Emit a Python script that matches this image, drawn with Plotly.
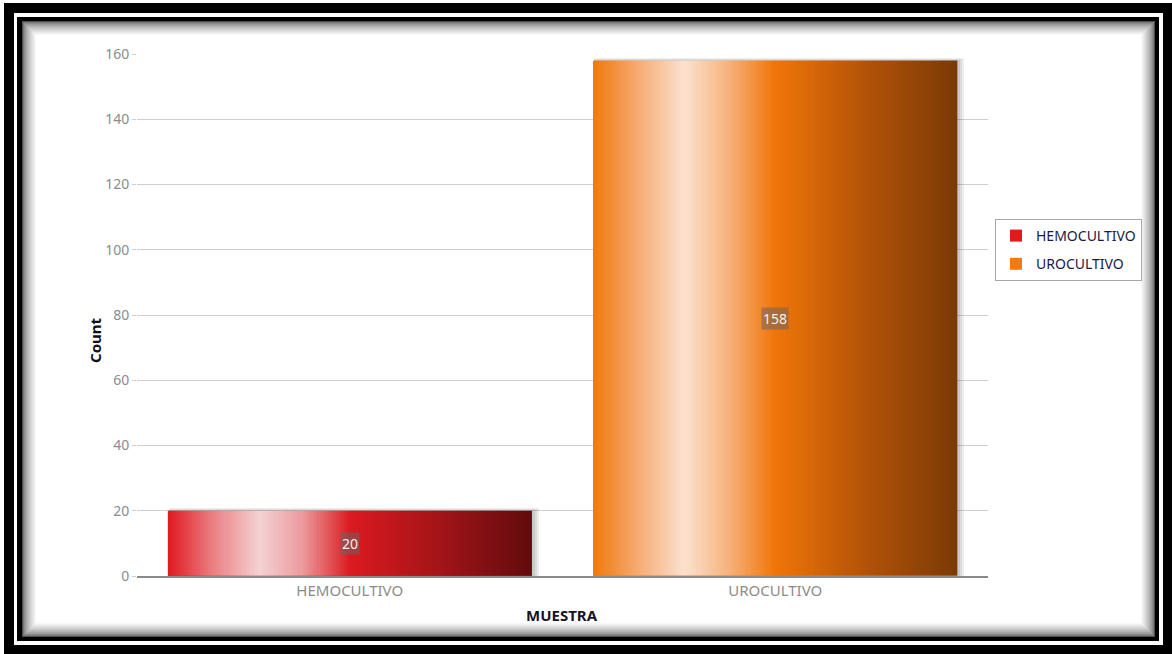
import numpy as np
import plotly.graph_objects as go

# Data
categories = ["HEMOCULTIVO", "UROCULTIVO"]
counts = [20, 158]
legend_colors = ["#e31a1c", "#f57a0e"]
y_ticks = [0, 20, 40, 60, 80, 100, 120, 140, 160]

# Horizontal "cylinder" shading for each bar
shading = [
    [[0.0, "#e01b22"], [0.12, "#ea7d80"], [0.25, "#f4d2d4"], [0.37, "#ec9a9d"],
     [0.5, "#db1a20"], [0.75, "#a21418"], [1.0, "#620b0d"]],
    [[0.0, "#f0790f"], [0.12, "#f6ab72"], [0.25, "#fbe1cf"], [0.37, "#f7b27c"],
     [0.5, "#f07508"], [0.75, "#b35308"], [1.0, "#7a3a06"]],
]

W, H = 1172, 654
L, R, T, B = 137, 184, 54, 78
PW, PH = W - L - R, H - T - B


def px(x):
    return (x - L) / PW


def py(y):
    return (H - B - y) / PH


BAR_W = 0.855
N_STRIPS = 180
X_RANGE = [-0.5, 1.5]
Y_RANGE = [0, 160]

fig = go.Figure()

# Soft drop shadow behind each bar
for i, v in enumerate(counts):
    for k, a in enumerate([0.10, 0.12, 0.14]):
        grow = 0.005 * (3 - k)
        fig.add_trace(go.Bar(
            x=[i + grow / 2 + 0.002], y=[v + 0.3 * (3 - k)], width=BAR_W + grow,
            marker=dict(color=f"rgba(90,90,90,{a})", line=dict(width=0)),
            showlegend=False, hoverinfo="skip",
        ))

# Base bars (legend entries)
for i, (cat, v, col) in enumerate(zip(categories, counts, legend_colors)):
    fig.add_trace(go.Bar(
        x=[i], y=[v], width=BAR_W, name=cat, legendgroup=cat,
        marker=dict(color=col, line=dict(width=0)),
        hoverinfo="x+y",
    ))

# Gradient fill over each bar, on an overlaid axis pair so it sits on top
for i, v in enumerate(counts):
    dx = BAR_W / N_STRIPS
    fig.add_trace(go.Heatmap(
        z=[np.linspace(0, 1, N_STRIPS)],
        x0=i - BAR_W / 2 + dx / 2, dx=dx,
        y0=v / 2, dy=v,
        colorscale=shading[i], zmin=0, zmax=1,
        showscale=False, hoverinfo="skip", zsmooth=False,
        xaxis="x2", yaxis="y2",
    ))

# Value labels in the middle of each bar
for i, v in enumerate(counts):
    fig.add_annotation(
        x=i, y=v / 2, text=str(v), showarrow=False,
        font=dict(family="Noto Sans", size=14, color="#f6f1ea"),
        bgcolor="rgba(105,100,100,0.55)", borderpad=1,
    )

# Frame: outer black border, white gap, inner black line, inner shadow
shapes = [
    dict(x0=4, y0=3, x1=1172, y1=654, fill="#000000"),
    dict(x0=14, y0=13, x1=1163, y1=645, fill="#ffffff"),
    dict(x0=17, y0=17, x1=1159, y1=641, fill="#000000"),
]
shadow_steps = 14
for k in range(shadow_steps + 1):
    g = int(80 + (255 - 80) * (k / shadow_steps) ** 0.55)
    shapes.append(dict(x0=22 + k, y0=21 + k, x1=1155 - k, y1=637 - k,
                       fill=f"rgb({g},{g},{g})"))
shapes.append(dict(x0=36, y0=35, x1=1141, y1=623, fill="#ffffff"))

for s in shapes:
    fig.add_shape(
        type="rect", xref="paper", yref="paper", layer="below",
        x0=px(s["x0"]), x1=px(s["x1"]), y0=py(s["y1"]), y1=py(s["y0"]),
        fillcolor=s["fill"], line=dict(width=0),
    )

# Axis titles
fig.add_annotation(
    xref="paper", yref="paper", x=px(95), y=py(340), text="<b>Count</b>",
    textangle=-90, showarrow=False, xanchor="center", yanchor="middle",
    font=dict(family="Noto Sans", size=15, color="#111111"),
)
fig.add_annotation(
    xref="paper", yref="paper", x=px(562), y=py(615), text="<b>MUESTRA</b>",
    showarrow=False, xanchor="center", yanchor="middle",
    font=dict(family="Noto Sans", size=15, color="#141428"),
)

fig.update_layout(
    width=W, height=H, autosize=False,
    margin=dict(l=L, r=R, t=T, b=B, pad=0),
    paper_bgcolor="#ffffff", plot_bgcolor="rgba(0,0,0,0)",
    barmode="overlay", bargap=0,
    showlegend=True,
    legend=dict(
        x=px(995), y=py(219), xanchor="left", yanchor="top",
        bgcolor="#ffffff", bordercolor="#a8a8a8", borderwidth=1,
        font=dict(family="Noto Sans", size=14, color="#1a1a44"),
        tracegroupgap=7, itemclick=False,
    ),
    xaxis=dict(
        range=X_RANGE, tickmode="array", tickvals=[0, 1], ticktext=categories,
        showgrid=False, zeroline=False, showline=True,
        linecolor="#8a8a8a", linewidth=2,
        ticks="", tickfont=dict(family="Noto Sans", size=15, color="#8c8c8c"),
    ),
    yaxis=dict(
        range=Y_RANGE, tickmode="array", tickvals=y_ticks,
        showgrid=True, gridcolor="#cfcfcf", gridwidth=1,
        zeroline=False, showline=False,
        ticks="outside", ticklen=4, tickcolor="#cfcfcf",
        tickfont=dict(family="Noto Sans", size=14, color="#8c8c8c"),
    ),
    xaxis2=dict(range=X_RANGE, overlaying="x", visible=False),
    yaxis2=dict(range=Y_RANGE, overlaying="y", visible=False),
)

fig.write_html("out.html")
